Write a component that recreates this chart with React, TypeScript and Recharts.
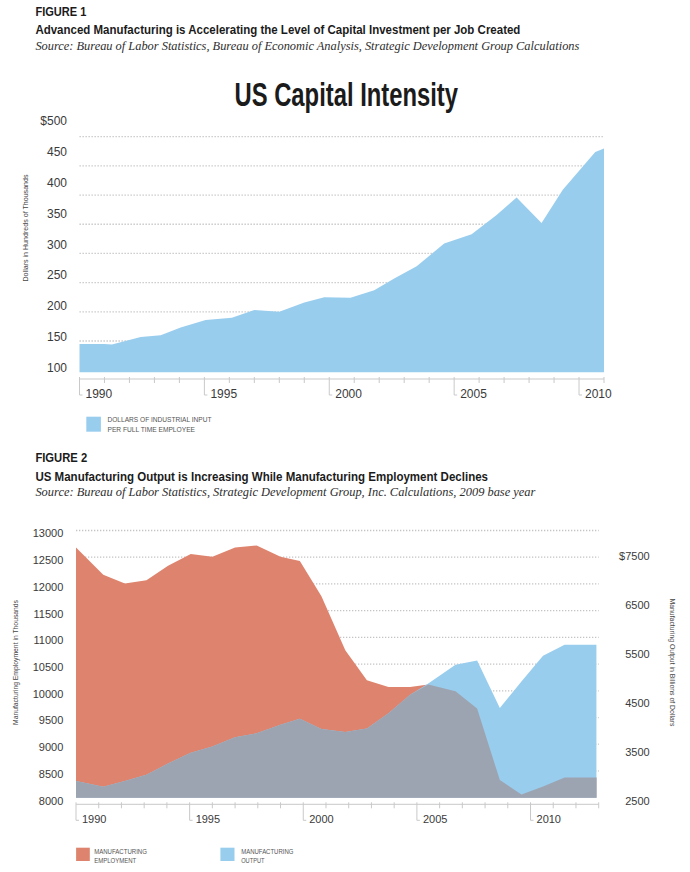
import React from "react";
import { ComposedChart, Area, XAxis, YAxis, CartesianGrid } from "recharts";

const SANS = "'Liberation Sans', Arial, sans-serif";
const SERIF = "'Liberation Serif', 'Times New Roman', serif";
const INK = "#1b1b1b";
const TICK_INK = "#3a3a3a";
const AXIS_GREY = "#c9c9c9";
const GRID_GREY = "#c4c4c4";
const BLUE = "#99cdee";
const RED = "#de846e";
const GREY = "#9da4b1";

// Figure 1 - capital intensity. x positions are read off the drawing (points aren't exactly on the years)
const capYears = [1990, 1991, 1991.3, 1992.45, 1993.25, 1994.05, 1995.05, 1996.1, 1997, 1998, 1999, 1999.8, 2000.85, 2001.8, 2002.6, 2003.5, 2004.6, 2005.7, 2006.7, 2007.5, 2008.5, 2009.35, 2010.65, 2011];
const capValues = [145, 145, 144, 157, 160, 173, 186, 190, 203, 200, 216, 225, 224, 237, 257, 278, 317, 333, 366, 396, 352, 409, 474, 480];
const capYearTicks = [1990, 1991, 1992, 1993, 1994, 1995, 1996, 1997, 1998, 1999, 2000, 2001, 2002, 2003, 2004, 2005, 2006, 2007, 2008, 2009, 2010, 2011];
const capLabelTicks = [100, 150, 200, 250, 300, 350, 400, 450, 500];
const capGridLines = [150, 200, 250, 300, 350, 400, 450, 500];
const CAP_DOMAIN = [96.4, 526.9];
const CAP_LABEL_DOMAIN = [92.5, 500];

// Figure 2 - employment (thousands, left) vs output (billions, right)
const mfgYears = [1990, 1991.2, 1992.15, 1993.1, 1994.05, 1995.05, 1996, 1997, 1997.95, 1999, 1999.85, 2000.8, 2001.85, 2002.8, 2003.75, 2004.7, 2005.5, 2006.7, 2007.65, 2008.65, 2009.6, 2010.55, 2011.5, 2012.9];
const employment = [12680, 12170, 12010, 12070, 12340, 12560, 12510, 12680, 12720, 12510, 12430, 11770, 10760, 10200, 10070, 10070, 10120, 9990, 9670, 8330, 8060, 8210, 8380, 8380];
const output = [2840, 2725, 2840, 2970, 3200, 3420, 3545, 3735, 3815, 3990, 4110, 3905, 3840, 3915, 4225, 4600, 4830, 5215, 5300, 4330, 4870, 5400, 5620, 5620];
const mfgYearTicks = [1990, 1991, 1992, 1993, 1994, 1995, 1996, 1997, 1998, 1999, 2000, 2001, 2002, 2003, 2004, 2005, 2006, 2007, 2008, 2009, 2010, 2011, 2012, 2013];
const empTicks = [8000, 8500, 9000, 9500, 10000, 10500, 11000, 11500, 12000, 12500, 13000];
const empGridLines = [8500, 9000, 9500, 10000, 10500, 11000, 11500, 12000, 12500, 13000];
const outTicks = [2500, 3500, 4500, 5500, 6500, 7500];
const EMP_DOMAIN = [8000, 13000];
const OUT_DOMAIN = [2500, 7955];

const capData = capYears.map((year, i) => ({ year, value: capValues[i] }));

// the grey band is where both areas overlap, so express output in employment units and take the lower one
const outInEmpUnits = (v: number) =>
  EMP_DOMAIN[0] + ((v - OUT_DOMAIN[0]) * (EMP_DOMAIN[1] - EMP_DOMAIN[0])) / (OUT_DOMAIN[1] - OUT_DOMAIN[0]);
const mfgData = mfgYears.map((year, i) => ({
  year,
  employment: employment[i],
  output: output[i],
  both: Math.min(employment[i], outInEmpUnits(output[i])),
}));

function YearTick({ x, y, payload, fontSize }: any) {
  const major = payload.value % 5 === 0;
  return (
    <g>
      <line x1={x} x2={x} y1={y - 2} y2={major ? y + 16 : y + 4} stroke={AXIS_GREY} />
      {major && <line x1={x} x2={x + 3} y1={y + 16} y2={y + 16} stroke={AXIS_GREY} />}
      {major && (
        <text x={x + 6} y={y + 18.6} fontSize={fontSize} fill={TICK_INK} fontFamily={SANS}>
          {payload.value}
        </text>
      )}
    </g>
  );
}

const dollarTop = (top: number) => (v: number) => (v === top ? `$${v}` : `${v}`);

function CapitalChart() {
  return (
    <div style={{ position: "absolute", left: 0, top: 0 }}>
      <ComposedChart width={690} height={410} data={capData} margin={{ top: 121, right: 86, bottom: 0, left: 0 }}>
        <CartesianGrid vertical={false} horizontalValues={capGridLines} stroke={GRID_GREY} strokeWidth={1.3} strokeDasharray="1.3 1.7" />
        <XAxis
          type="number"
          dataKey="year"
          domain={[1990, 2011]}
          ticks={capYearTicks}
          interval={0}
          height={31}
          tickSize={0}
          tickMargin={0}
          tickLine={false}
          axisLine={{ stroke: AXIS_GREY }}
          tick={(p: any) => <YearTick {...p} fontSize={12} />}
        />
        <YAxis hide yAxisId={0} width={0} domain={CAP_DOMAIN} ticks={capGridLines} padding={{ bottom: 6.7 }} />
        {/* label-only axis: the printed labels sit on a slightly different spacing than the grid */}
        <YAxis
          yAxisId="lbl"
          width={79.5}
          type="number"
          domain={CAP_LABEL_DOMAIN}
          allowDataOverflow
          ticks={capLabelTicks}
          interval={0}
          padding={{ bottom: 6.7 }}
          axisLine={false}
          tickLine={false}
          tickSize={0}
          tickMargin={12.5}
          tickFormatter={dollarTop(500)}
          tick={{ fill: TICK_INK, fontSize: 12, fontFamily: SANS }}
        />
        <Area yAxisId={0} type="linear" dataKey="value" stroke="none" fill={BLUE} fillOpacity={1} dot={false} activeDot={false} isAnimationActive={false} />
      </ComposedChart>
    </div>
  );
}

function ManufacturingChart() {
  return (
    <div style={{ position: "absolute", left: 0, top: 500 }}>
      <ComposedChart width={690} height={335} data={mfgData} margin={{ top: 30.5, right: 0, bottom: 0, left: 0 }}>
        <CartesianGrid vertical={false} horizontalValues={empGridLines} stroke={GRID_GREY} strokeWidth={1.3} strokeDasharray="1.3 1.7" />
        <XAxis
          type="number"
          dataKey="year"
          domain={[1990, 2013]}
          ticks={mfgYearTicks}
          interval={0}
          height={30.7}
          tickSize={0}
          tickMargin={0}
          tickLine={false}
          axisLine={{ stroke: AXIS_GREY }}
          tick={(p: any) => <YearTick {...p} fontSize={11} />}
        />
        <YAxis
          yAxisId={0}
          width={76}
          domain={EMP_DOMAIN}
          ticks={empTicks}
          interval={0}
          padding={{ bottom: 6.6 }}
          axisLine={false}
          tickLine={false}
          tickSize={0}
          tickMargin={12.7}
          tick={{ fill: TICK_INK, fontSize: 11, fontFamily: SANS, dy: 3 }}
        />
        <YAxis
          yAxisId="out"
          orientation="right"
          width={91.3}
          domain={OUT_DOMAIN}
          ticks={outTicks}
          interval={0}
          padding={{ bottom: 6.6 }}
          axisLine={false}
          tickLine={false}
          tickSize={0}
          tickMargin={51}
          tickFormatter={dollarTop(7500)}
          tick={{ fill: TICK_INK, fontSize: 11, fontFamily: SANS, dy: 3, textAnchor: "end" }}
        />
        <Area yAxisId={0} type="linear" dataKey="employment" stroke="none" fill={RED} fillOpacity={1} dot={false} activeDot={false} isAnimationActive={false} />
        <Area yAxisId="out" type="linear" dataKey="output" stroke="none" fill={BLUE} fillOpacity={1} dot={false} activeDot={false} isAnimationActive={false} />
        <Area yAxisId={0} type="linear" dataKey="both" stroke="none" fill={GREY} fillOpacity={1} dot={false} activeDot={false} isAnimationActive={false} />
      </ComposedChart>
    </div>
  );
}

// headings, axis titles and legends, squeezed to the measured widths
function Txt({ w, ...rest }: any) {
  return <text textLength={w} lengthAdjust="spacingAndGlyphs" {...rest} />;
}

function Annotations() {
  const head = { fontFamily: SANS, fontWeight: 700, fill: INK };
  const src = { fontFamily: SERIF, fontStyle: "italic", fill: "#2e2e2e", fontSize: 13 };
  const small = { fontFamily: SANS, fill: "#555", fontSize: 6.5 };
  const axisTitle = { fontFamily: SANS, fill: "#444", fontSize: 7, textAnchor: "middle" };
  return (
    <svg width={690} height={872} style={{ position: "absolute", left: 0, top: 0, pointerEvents: "none" }}>
      <Txt x={35.4} y={16} w={51} fontSize={12} {...head}>FIGURE 1</Txt>
      <Txt x={35.4} y={34.3} w={485} fontSize={13} {...head}>
        Advanced Manufacturing is Accelerating the Level of Capital Investment per Job Created
      </Txt>
      <Txt x={35.4} y={50} w={544} {...src}>
        Source: Bureau of Labor Statistics, Bureau of Economic Analysis, Strategic Development Group Calculations
      </Txt>
      <Txt x={234.5} y={106} w={223.5} fontSize={33} {...head}>US Capital Intensity</Txt>
      <Txt w={107} {...axisTitle} transform="translate(26,228) rotate(-90)" dy="0.35em">
        Dollars in Hundreds of Thousands
      </Txt>

      <rect x={86.3} y={416.7} width={14.6} height={15} fill={BLUE} />
      <Txt x={107.5} y={422.3} w={104} {...small}>DOLLARS OF INDUSTRIAL INPUT</Txt>
      <Txt x={107.5} y={431.7} w={87.5} {...small}>PER FULL TIME EMPLOYEE</Txt>

      <Txt x={35.4} y={461.7} w={51.8} fontSize={12} {...head}>FIGURE 2</Txt>
      <Txt x={35.4} y={480.7} w={452.6} fontSize={13} {...head}>
        US Manufacturing Output is Increasing While Manufacturing Employment Declines
      </Txt>
      <Txt x={35.4} y={495.5} w={500} {...src}>
        Source: Bureau of Labor Statistics, Strategic Development Group, Inc. Calculations, 2009 base year
      </Txt>
      <Txt w={125} {...axisTitle} transform="translate(16,662.5) rotate(-90)" dy="0.35em">
        Manufacturing Employment in Thousands
      </Txt>
      <Txt w={128} {...axisTitle} transform="translate(672,662.5) rotate(90)" dy="0.35em">
        Manufacturing Output in Billions of Dollars
      </Txt>

      <rect x={76.1} y={847.7} width={13.7} height={13.3} fill={RED} />
      <Txt x={94.2} y={853.5} w={52.7} {...small}>MANUFACTURING</Txt>
      <Txt x={94.2} y={862.7} w={42} {...small}>EMPLOYMENT</Txt>
      <rect x={220.4} y={847.7} width={14.1} height={13.3} fill={BLUE} />
      <Txt x={241.2} y={853.5} w={52.2} {...small}>MANUFACTURING</Txt>
      <Txt x={241.2} y={862.7} w={23.4} {...small}>OUTPUT</Txt>
    </svg>
  );
}

export default function App() {
  return (
    <div style={{ position: "absolute", left: 0, top: 0, width: 690, height: 872, background: "#fff", overflow: "hidden" }}>
      <CapitalChart />
      <ManufacturingChart />
      <Annotations />
    </div>
  );
}
